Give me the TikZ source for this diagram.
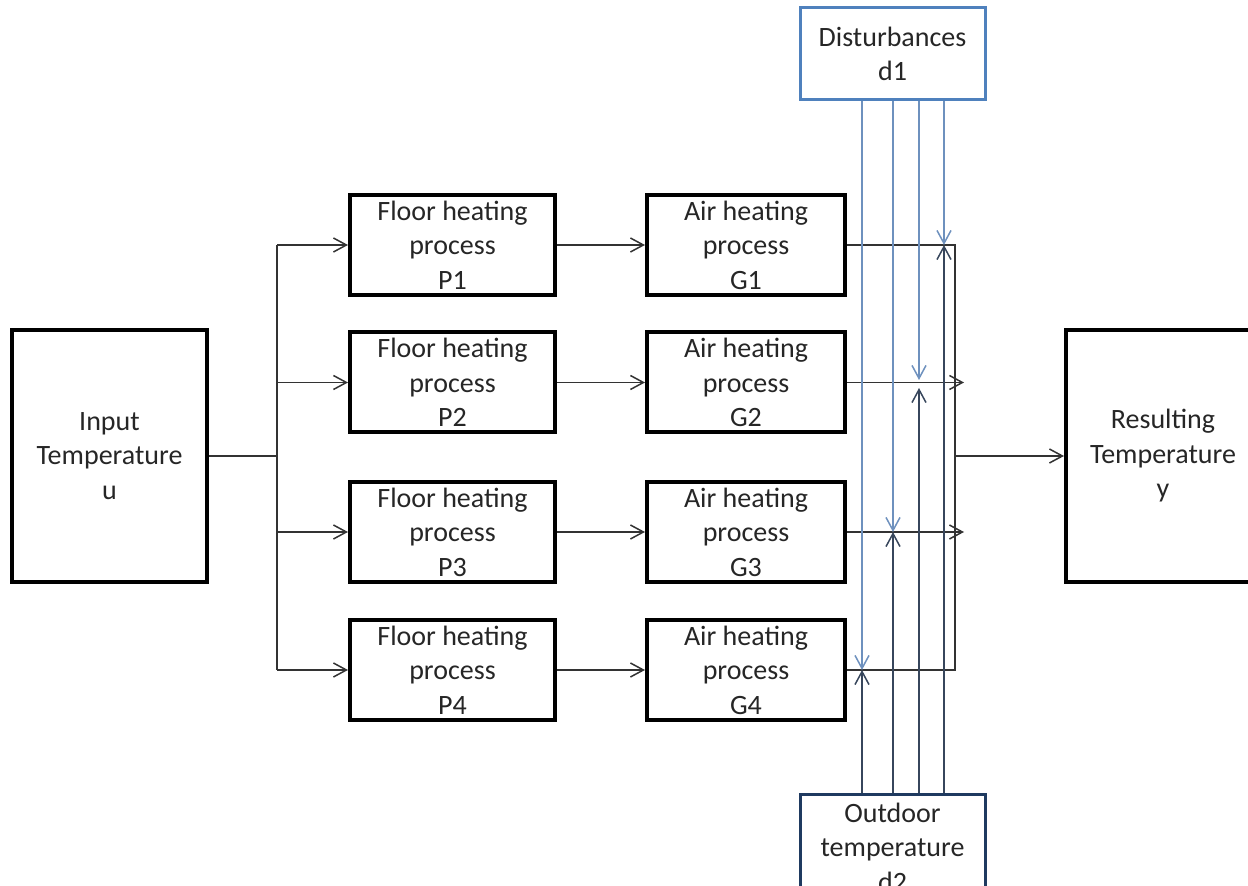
\documentclass[tikz,border=0pt]{standalone}
\usepackage{fontspec}
\setmainfont{Carlito}
\usetikzlibrary{arrows.meta}
\definecolor{distblue}{RGB}{79,129,189}
\definecolor{outnavy}{RGB}{31,58,96}
\definecolor{upline}{RGB}{110,145,190}
\definecolor{lowline}{RGB}{55,70,92}
\definecolor{txtgray}{RGB}{38,38,38}
\begin{document}
\begin{tikzpicture}[x=0.5pt, y=-0.5pt, box/.style={rectangle, draw, line width=2pt, align=center, text=txtgray, inner sep=0pt, font=\fontsize{14}{17.25}\selectfont}, bigbox/.style={box, minimum width=97.5pt, minimum height=126pt}, pbox/.style={box, minimum width=102.5pt, minimum height=50pt}, gbox/.style={box, minimum width=99pt, minimum height=50pt}, distbox/.style={box, line width=1.5pt, minimum width=92.5pt}, conn/.style={line width=0.75pt, draw=black!80}, arrow/.style={conn, -{Straight Barb[length=6.5pt,width=7pt]}}, dline/.style={line width=0.75pt, draw=upline, -{Straight Barb[length=6.5pt,width=7pt]}}, oline/.style={line width=0.75pt, draw=lowline, -{Straight Barb[length=6.5pt,width=7pt]}}]
\useasboundingbox (0,0) rectangle (1248,886);
% blocks
\node [bigbox] (in) at (109.5,456) {Input\\Temperature\\u};
\node [pbox] (p1) at (452.5,245) {Floor heating\\process\\P1};
\node [pbox] (p2) at (452.5,382.5) {Floor heating\\process\\P2};
\node [pbox] (p3) at (452.5,532) {Floor heating\\process\\P3};
\node [pbox] (p4) at (452.5,670) {Floor heating\\process\\P4};
\node [gbox] (g1) at (746,245) {Air heating\\process\\G1};
\node [gbox] (g2) at (746,382.5) {Air heating\\process\\G2};
\node [gbox] (g3) at (746,532) {Air heating\\process\\G3};
\node [gbox] (g4) at (746,670) {Air heating\\process\\G4};
\node [bigbox, minimum width=97pt] (out) at (1163,456) {Resulting\\Temperature\\y};
\node [distbox, draw=distblue, minimum height=46pt] (d1) at (892.5,54) {Disturbances\\d1};
\node [distbox, draw=outnavy, minimum height=52pt] (d2) at (892.5,847) {Outdoor\\temperature\\d2};
% branch and merge points
\coordinate (split) at (277,456);
\coordinate (merge) at (955,456);
\coordinate (end2) at (964,382.5);
\coordinate (end3) at (964,532);
\draw [conn] (in) -- (split);
\draw [conn] (split |- p1) -- (split |- p4);
\draw [arrow] (split |- p1) -- (p1);
\draw [arrow] (split |- p2) -- (p2);
\draw [arrow] (split |- p3) -- (p3);
\draw [arrow] (split |- p4) -- (p4);
\draw [arrow] (p1) -- (g1);
\draw [arrow] (p2) -- (g2);
\draw [arrow] (p3) -- (g3);
\draw [arrow] (p4) -- (g4);
\draw [conn] (g1.east) -| (merge |- g4.east) -- (g4.east);
\draw [arrow] (g2.east) -- (end2);
\draw [arrow] (g3.east) -- (end3);
\draw [arrow] (merge) -- (out);
% disturbance inputs
\coordinate (c1) at (944,245);
\coordinate (c2a) at (919,380);
\coordinate (c2b) at (919,388);
\coordinate (c3) at (893,532);
\coordinate (c4) at (862,670);
\draw [dline] (c1 |- d1.south) -- (c1);
\draw [oline] (c1 |- d2.north) -- (c1);
\draw [dline] (c2a |- d1.south) -- (c2a);
\draw [oline] (c2b |- d2.north) -- (c2b);
\draw [dline] (c3 |- d1.south) -- (c3);
\draw [oline] (c3 |- d2.north) -- (c3);
\draw [dline] (c4 |- d1.south) -- (c4);
\draw [oline] (c4 |- d2.north) -- (c4);
\end{tikzpicture}
\end{document}
